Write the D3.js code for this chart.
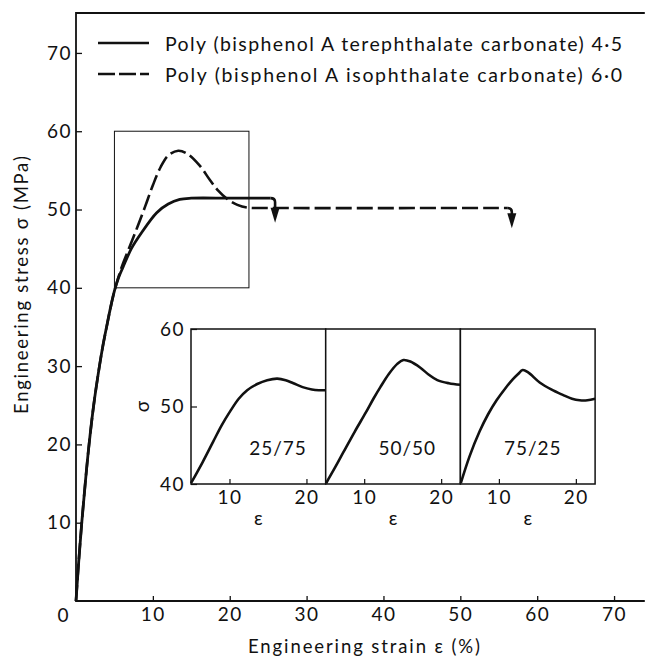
<!DOCTYPE html>
<html>
<head>
<meta charset="utf-8">
<script src="https://cdn.jsdelivr.net/npm/d3@7"></script>
<style>
  body { margin: 0; background: #fff; }
  svg text { font-family: Lato, "DejaVu Sans", sans-serif; fill: #111; }
  .tick text { letter-spacing: 1.5px; }
</style>
</head>
<body>
<svg id="chart" width="645" height="657"></svg>
<script>
// values: strain in %, stress in MPa

// poly(bisphenol A terephthalate carbonate), solid
const terephStrain = [0, 0.35, 0.75, 1.2, 1.7, 2.3, 3.05, 3.5, 4.0, 4.5, 5.0, 5.5, 6.1, 7.2, 8.5, 10.5, 12, 13.5, 15, 20, 25.3];
const terephStress = [0, 5, 10, 15, 20, 25, 30, 32.6, 35.1, 37.5, 39.6, 41.2, 42.6, 45, 47, 49.6, 50.7, 51.3, 51.45, 51.45, 51.45];

// poly(bisphenol A isophthalate carbonate), dashed
const isophStrain = [0, 0.35, 0.75, 1.2, 1.7, 2.3, 3.05, 3.5, 4.0, 4.5, 5.0, 5.5, 6, 7, 8, 9, 10, 11, 12, 13.3, 14.5, 16.1, 17.4, 18.5, 19.6, 21, 22.3, 25, 56.1];
const isophStress = [0, 5, 10, 15, 20, 25, 30, 32.6, 35.1, 37.5, 39.6, 41.3, 42.8, 45.3, 47.8, 50.4, 53.1, 55.4, 56.9, 57.5, 57.1, 55.6, 53.8, 52.4, 51.4, 50.6, 50.25, 50.2, 50.2];

// where each curve ends (break), the arrow tip
const arrowStrain = [25.9, 56.7];
const arrowFrom = [51.45, 50.2];
const arrowTip = [48.3, 47.6];

const legendNames = [
  "Poly (bisphenol A terephthalate carbonate) 4·5",
  "Poly (bisphenol A isophthalate carbonate) 6·0"
];

const xTicks = [10, 20, 30, 40, 50, 60, 70];
const yTicks = [10, 20, 30, 40, 50, 60, 70];

// zoomed box and insets (copolymer ratios)
const boxStrain = [5, 22.5];
const boxStress = [40, 60];
const insetLabels = ["25/75", "50/50", "75/25"];
const insetStrain = [
  [5, 6.5, 7.9, 9, 10.1, 11.2, 12.3, 13.6, 14.9, 16.2, 17.3, 18.3, 19.5, 20.7, 21.6, 22.5],
  [5.05, 6.2, 7.3, 8.8, 10.2, 11.2, 12.1, 13.2, 14.3, 15.1, 16, 17.3, 18.4, 19.5, 21, 22.5],
  [5.05, 6.2, 7.5, 8.6, 9.7, 10.8, 11.8, 12.5, 13.1, 13.8, 15.3, 16.8, 18.3, 19.5, 20.5, 21.5, 22.5]
];
const insetStress = [
  [40.1, 42.8, 45.5, 47.6, 49.4, 51, 52.1, 52.9, 53.4, 53.6, 53.4, 53.0, 52.5, 52.2, 52.1, 52.1],
  [40.1, 42.1, 44.1, 46.8, 49.2, 51, 52.5, 54.2, 55.5, 56, 55.8, 55, 54.1, 53.4, 53, 52.8],
  [40.1, 43.6, 46.8, 49, 50.8, 52.3, 53.5, 54.2, 54.7, 54.4, 53.1, 52.2, 51.5, 51, 50.8, 50.8, 51]
];
const insetXTicks = [10, 20];
const insetYTicks = [40, 50, 60];

const svg = d3.select("#chart");
const ink = "#111";
const fs = 19;

const x = d3.scaleLinear().domain([0, 74]).range([76, 644.8]);
const y = d3.scaleLinear().domain([0, 75.1]).range([601, 13]);

// frame: top, left, bottom (open on the right)
svg.append("path")
  .attr("d", `M${x(74)},${y(75.1)}H${x(0)}V${y(0)}H${x(74)}`)
  .attr("fill", "none").attr("stroke", ink).attr("stroke-width", 1.8);

let gx = svg.append("g").attr("transform", `translate(0,${y(0)})`)
  .call(d3.axisBottom(x).tickValues(xTicks).tickSizeInner(-5).tickSizeOuter(0).tickPadding(7));
gx.select(".domain").remove();
gx.selectAll("line").attr("stroke", ink).attr("stroke-width", 1.3);
gx.selectAll("text").attr("font-size", fs).attr("font-family", null).attr("fill", ink);

let gy = svg.append("g").attr("transform", `translate(${x(0)},0)`)
  .call(d3.axisLeft(y).tickValues(yTicks).tickSizeInner(-6).tickSizeOuter(0).tickPadding(4));
gy.select(".domain").remove();
gy.selectAll("line").attr("stroke", ink).attr("stroke-width", 1.3);
gy.selectAll("text").attr("font-size", fs).attr("font-family", null).attr("fill", ink);

svg.append("text").attr("x", x(0) - 13).attr("y", 622)
  .attr("text-anchor", "middle").attr("font-size", fs).text("0");

// axis titles
svg.append("text").attr("x", 364).attr("y", 653).attr("text-anchor", "middle")
  .attr("font-size", 18.5).attr("textLength", 232).attr("lengthAdjust", "spacing")
  .text("Engineering strain ε (%)");
svg.append("text").attr("transform", "translate(28,285) rotate(-90)").attr("text-anchor", "middle")
  .attr("font-size", 18.5).attr("textLength", 258).attr("lengthAdjust", "spacing")
  .text("Engineering stress σ (MPa)");

// zoom box
svg.append("rect")
  .attr("x", x(boxStrain[0])).attr("y", y(boxStress[1]))
  .attr("width", x(boxStrain[1]) - x(boxStrain[0]))
  .attr("height", y(boxStress[0]) - y(boxStress[1]))
  .attr("fill", "none").attr("stroke", ink).attr("stroke-width", 1);

// main curves
const line = d3.line().x(d => x(d[0])).y(d => y(d[1])).curve(d3.curveCatmullRom.alpha(0.5));
const solidPts = terephStrain.map((s, i) => [s, terephStress[i]]);
const dashPts = isophStrain.map((s, i) => [s, isophStress[i]]);

svg.append("path").attr("d", line(dashPts))
  .attr("fill", "none").attr("stroke", ink).attr("stroke-width", 2.6)
  .attr("stroke-dasharray", "16,5");
svg.append("path").attr("d", line(solidPts))
  .attr("fill", "none").attr("stroke", ink).attr("stroke-width", 2.8);

// break arrows
const lastX = [terephStrain[terephStrain.length - 1], isophStrain[isophStrain.length - 1]];
arrowStrain.forEach((s, i) => {
  const ax = x(s), y0 = y(arrowFrom[i]), tip = y(arrowTip[i]);
  const base = tip - 15;
  svg.append("path")
    .attr("d", `M${x(lastX[i])},${y0}Q${ax},${y0} ${ax},${y0 + 4}V${base + 1}`)
    .attr("fill", "none").attr("stroke", ink).attr("stroke-width", 2.6);
  svg.append("path")
    .attr("d", `M${ax - 4.5},${base}L${ax + 4.5},${base}L${ax},${tip}Z`)
    .attr("fill", ink);
});

// legend
legendNames.forEach((name, i) => {
  const ly = 43 + i * 31;
  svg.append("line").attr("x1", 98).attr("x2", 149).attr("y1", ly).attr("y2", ly)
    .attr("stroke", ink).attr("stroke-width", 2.4)
    .attr("stroke-dasharray", i === 1 ? "17,4" : null);
  svg.append("text").attr("x", 165).attr("y", ly + 7.5)
    .attr("font-size", 19.5).attr("textLength", 457).attr("lengthAdjust", "spacing")
    .text(name);
});

// insets
const panelLeft = 191, panelW = 134.7;
const iy = d3.scaleLinear().domain([40, 60]).range([484, 329]);
const labelStrain = [16.3, 15.6, 14.4];

insetLabels.forEach((lab, i) => {
  const left = panelLeft + i * panelW;
  const ix = d3.scaleLinear().domain(boxStrain).range([left, left + panelW]);
  const g = svg.append("g");

  g.append("rect").attr("x", left).attr("y", iy(60))
    .attr("width", panelW).attr("height", iy(40) - iy(60))
    .attr("fill", "#fff").attr("stroke", ink).attr("stroke-width", 1.5);

  const ax = g.append("g").attr("transform", `translate(0,${iy(40)})`)
    .call(d3.axisBottom(ix).tickValues(insetXTicks).tickSizeInner(-5).tickSizeOuter(0).tickPadding(7));
  ax.select(".domain").remove();
  ax.selectAll("line").attr("stroke", ink).attr("stroke-width", 1.2);
  ax.selectAll("text").attr("font-size", fs).attr("font-family", null).attr("fill", ink);

  g.append("text").attr("x", left + panelW / 2).attr("y", 525)
    .attr("text-anchor", "middle").attr("font-size", fs).text("ε");

  const pts = insetStrain[i].map((s, k) => [s, insetStress[i][k]]);
  g.append("path")
    .attr("d", d3.line().x(d => ix(d[0])).y(d => iy(d[1])).curve(d3.curveCatmullRom.alpha(0.5))(pts))
    .attr("fill", "none").attr("stroke", ink).attr("stroke-width", 2.6);

  g.append("text").attr("x", ix(labelStrain[i])).attr("y", 455)
    .attr("text-anchor", "middle").attr("font-size", fs).attr("letter-spacing", 1)
    .text(lab);

  if (i === 0) {
    const ay = g.append("g").attr("transform", `translate(${left},0)`)
      .call(d3.axisLeft(iy).tickValues(insetYTicks).tickSizeInner(-6).tickSizeOuter(0).tickPadding(6));
    ay.select(".domain").remove();
    ay.selectAll("line").attr("stroke", ink).attr("stroke-width", 1.2);
    ay.selectAll("text").attr("font-size", fs).attr("font-family", null).attr("fill", ink);
    g.append("text").attr("transform", `translate(149,${iy(50)}) rotate(-90)`)
      .attr("text-anchor", "middle").attr("font-size", fs).text("σ");
  }
});
</script>
</body>
</html>
